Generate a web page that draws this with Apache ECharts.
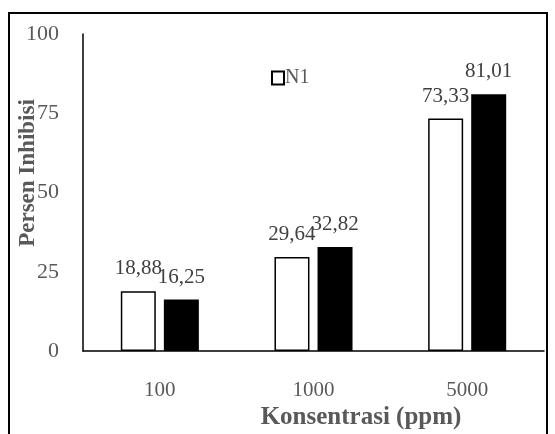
<!DOCTYPE html>
<html>
<head>
<meta charset="utf-8">
<script src="https://cdn.jsdelivr.net/npm/echarts@6/dist/echarts.min.js"></script>
<style>
  html, body { margin: 0; padding: 0; background: #fff; }
  #chart { width: 555px; height: 434px; }
</style>
</head>
<body>
<div id="chart"></div>
<script>
  // data
  var categories = ['100', '1000', '5000'];
  var n1 = [18.88, 29.64, 73.33];
  var n2 = [16.25, 32.82, 81.01];
  var legendNames = ['N1'];

  var serif = 'Liberation Serif';
  var fmt = function (p) {
    return p.value.toFixed(2).replace('.', ',');
  };

  var myChart = echarts.init(document.getElementById('chart'));
  var option = {
    backgroundColor: '#fff',
    animation: false,
    grid: { left: 83, top: 34, width: 461, height: 317 },
    legend: {
      data: legendNames,
      icon: 'rect',
      left: 266,
      top: 63,
      itemWidth: 12,
      itemHeight: 13,
      itemGap: 2,
      textStyle: { fontFamily: serif, fontSize: 20, color: '#595959', padding: [0, 0, 0, -4] }
    },
    xAxis: {
      type: 'category',
      data: categories,
      axisLine: { lineStyle: { color: '#000', width: 1.5 } },
      axisTick: { show: false },
      axisLabel: { margin: 29, fontFamily: serif, fontSize: 21, color: '#595959' }
    },
    yAxis: {
      type: 'value',
      min: 0,
      max: 100,
      interval: 25,
      splitLine: { show: false },
      axisLine: { show: true, lineStyle: { color: '#000', width: 1.5 } },
      axisTick: { show: false },
      axisLabel: { margin: 24, fontFamily: serif, fontSize: 22, color: '#595959' }
    },
    series: [{
      name: 'N1',
      type: 'bar',
      data: n1,
      barWidth: 35,
      barGap: '23%',
      itemStyle: { color: '#fff', borderColor: '#000', borderWidth: 1.5 },
      label: { show: true, position: 'top', distance: 12, formatter: fmt,
        fontFamily: serif, fontSize: 21, color: '#404040' }
    }, {
      name: 'N2',
      type: 'bar',
      data: n2,
      barWidth: 35,
      itemStyle: { color: '#000' },
      label: { show: true, position: 'top', distance: 12, formatter: fmt,
        fontFamily: serif, fontSize: 21, color: '#404040' }
    }],
    graphic: [{
      type: 'rect',
      shape: { x: 9, y: 13, width: 538, height: 440 },
      style: { fill: 'none', stroke: '#000', lineWidth: 2 }
    }, {
      type: 'text',
      x: 28, y: 173,
      rotation: Math.PI / 2,
      style: { text: 'Persen Inhibisi', fontFamily: serif, fontWeight: 'bold', fontSize: 23,
        fill: '#595959', align: 'center', verticalAlign: 'middle' }
    }, {
      type: 'text',
      x: 361, y: 418,
      style: { text: 'Konsentrasi (ppm)', fontFamily: serif, fontWeight: 'bold', fontSize: 25,
        fill: '#595959', align: 'center', verticalAlign: 'middle' }
    }]
  };
  myChart.setOption(option);
</script>
</body>
</html>
